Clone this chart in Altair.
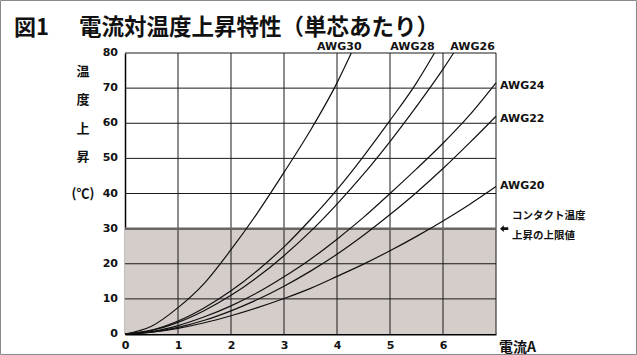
import altair as alt
import pandas as pd

# ---- data ----
awg30_i = [0, 0.5, 1, 1.5, 2, 2.5, 3, 3.5, 4, 4.27]
awg30_t = [0, 2.2, 7.5, 14.5, 24, 34.5, 46, 58, 71.5, 80]
awg28_i = [0, 0.5, 1, 1.5, 2, 2.5, 3, 3.5, 4, 4.5, 5, 5.5, 5.84]
awg28_t = [0, 1.1, 3.7, 7.5, 12.3, 18.1, 24.8, 32.6, 41.1, 50.6, 60.8, 71.5, 80]
awg26_i = [0, 0.5, 1, 1.5, 2, 2.5, 3, 3.5, 4, 4.5, 5, 5.5, 6, 6.2]
awg26_t = [0, 1.0, 3.3, 6.7, 11.0, 16.2, 22.3, 29.2, 37.0, 45.5, 54.8, 64.8, 75.4, 80]
awg24_i = [0, 0.5, 1, 1.5, 2, 2.5, 3, 3.5, 4, 4.5, 5, 5.5, 6, 6.5, 7]
awg24_t = [0, 0.7, 2.4, 4.9, 8.0, 11.8, 16.3, 21.3, 27.0, 33.2, 40.0, 47.0, 54.3, 62.3, 71.5]
awg22_i = [0, 0.5, 1, 1.5, 2, 2.5, 3, 3.5, 4, 4.5, 5, 5.5, 6, 6.5, 7]
awg22_t = [0, 0.55, 1.9, 3.9, 6.6, 9.8, 13.6, 17.9, 22.7, 28.1, 34.0, 40.3, 47.1, 54.4, 62]
awg20_i = [0, 0.5, 1, 1.5, 2, 2.5, 3, 3.5, 4, 4.5, 5, 5.5, 6, 6.5, 7]
awg20_t = [0, 0.5, 1.6, 3.2, 5.2, 7.5, 10.1, 13.0, 16.4, 19.9, 23.7, 27.8, 32.2, 36.9, 42]

series_names = ["AWG30", "AWG28", "AWG26", "AWG24", "AWG22", "AWG20"]
series_i = [awg30_i, awg28_i, awg26_i, awg24_i, awg22_i, awg20_i]
series_t = [awg30_t, awg28_t, awg26_t, awg24_t, awg22_t, awg20_t]

x_ticks = [0, 1, 2, 3, 4, 5, 6]
y_ticks = [0, 10, 20, 30, 40, 50, 60, 70, 80]
x_grid = [1, 2, 3, 4, 5, 6, 7]
y_grid = [10, 20, 30, 40, 50, 60, 70, 80]
limit_temp = 30

title_fig = "図1"
title_main = "電流対温度上昇特性（単芯あたり）"
y_title_chars = ["温", "度", "上", "昇"]
y_unit = "(℃)"
x_title = "電流A"
note_1 = "コンタクト温度"
note_2 = "上昇の上限値"

JP = "Noto Sans CJK JP"
NUM = "DejaVu Sans"

# ---- tables ----
rows = []
for name, xs_, ts in zip(series_names, series_i, series_t):
    for k, (a, b) in enumerate(zip(xs_, ts)):
        rows.append({"series": name, "current": a, "temp": b, "order": k})
curves = pd.DataFrame(rows)

ends = pd.DataFrame({
    "series": series_names,
    "current": [v[-1] for v in series_i],
    "temp": [v[-1] for v in series_t],
})

xs = alt.Scale(domain=[0, 7], nice=False, zero=True)
ys = alt.Scale(domain=[0, 80], nice=False)

base = alt.Chart(curves)

axis_common = dict(
    grid=False, ticks=False, domain=True, domainColor="#000",
    labelFont=NUM, labelFontSize=11, labelFontWeight="bold", labelColor="#111",
    labelOverlap=False, labelFlush=False, format="d", title=None,
)

shade = alt.Chart(pd.DataFrame({"x0": [0], "x1": [7], "y0": [0], "y1": [limit_temp]})).mark_rect(
    color="#d5cdca"
).encode(
    x=alt.X("x0:Q", scale=xs, axis=alt.Axis(values=x_ticks, domainWidth=2, labelPadding=5, **axis_common)),
    x2="x1:Q",
    y=alt.Y("y0:Q", scale=ys, axis=alt.Axis(values=y_ticks, domainWidth=1.5, labels=False, **axis_common)),
    y2="y1:Q",
)

vgrid = alt.Chart(pd.DataFrame({"g": x_grid})).mark_rule(color="#1a1a1a", strokeWidth=1).encode(
    x=alt.X("g:Q", scale=xs), y=alt.datum(0, scale=ys), y2=alt.datum(80)
)
hgrid = alt.Chart(pd.DataFrame({"g": y_grid})).mark_rule(color="#1a1a1a", strokeWidth=1).encode(
    y=alt.Y("g:Q", scale=ys), x=alt.datum(0, scale=xs), x2=alt.datum(7)
)
limit = alt.Chart(pd.DataFrame({"g": [limit_temp]})).mark_rule(color="#6a6462", strokeWidth=2.5).encode(
    y=alt.Y("g:Q", scale=ys), x=alt.datum(0, scale=xs), x2=alt.datum(7)
)

lines = base.mark_line(color="#111", strokeWidth=1.2, interpolate="monotone").encode(
    x=alt.X("current:Q", scale=xs),
    y=alt.Y("temp:Q", scale=ys),
    detail="series:N",
    order="order:Q",
)


def end_label(name, align, baseline, dx, dy):
    return alt.Chart(ends[ends.series == name]).mark_text(
        font=NUM, fontSize=11, fontWeight="bold", color="#111",
        align=align, baseline=baseline, dx=dx, dy=dy
    ).encode(x=alt.X("current:Q", scale=xs), y=alt.Y("temp:Q", scale=ys), text="series:N")


labels = [
    end_label("AWG30", "center", "alphabetic", -12, -3.5),
    end_label("AWG28", "center", "alphabetic", -22, -3.5),
    end_label("AWG26", "center", "alphabetic", 19, -3.5),
    end_label("AWG24", "left", "middle", 4, 3),
    end_label("AWG22", "left", "middle", 4, 3),
    end_label("AWG20", "left", "middle", 4, 0),
]

one = pd.DataFrame({"a": [0]})


def anno(text, x, y, dx, dy, size, align="left", font=JP, weight="bold", baseline="middle"):
    return alt.Chart(one).mark_text(
        text=text, font=font, fontSize=size, fontWeight=weight, color="#111",
        align=align, baseline=baseline, dx=dx, dy=dy
    ).encode(x=alt.datum(x), y=alt.datum(y))


notes = [
    anno(note_1, 7, limit_temp, 16, -13, 10.5),
    anno(note_2, 7, limit_temp, 16, 7, 10.5),
    anno(x_title, 7, 0, 3, 14, 14),
]

# y tick labels, one text per tick value, placed through the y scale
y_labels = [anno(str(v), 0, v, -7, 0, 11, align="right", font=NUM) for v in y_ticks]

arrow_path = "M1.33,0 L2.6,-1.15 L2.6,-0.45 L4.1,-0.45 L4.1,0.45 L2.6,0.45 L2.6,1.15 Z"
arrow = alt.Chart(one).mark_point(
    shape=arrow_path, size=36, filled=True, color="#111", opacity=1, strokeWidth=0
).encode(x=alt.datum(7), y=alt.datum(limit_temp))

ytitle = alt.Chart(one).mark_text(
    text=y_title_chars, font=JP, fontSize=13, fontWeight="bold", color="#111",
    align="center", baseline="top", lineHeight=28.4
).encode(x=alt.value(-42), y=alt.value(13))

yunit = alt.Chart(one).mark_text(
    text=y_unit, font=JP, fontSize=13, fontWeight="bold", color="#111",
    align="center", baseline="middle"
).encode(x=alt.value(-42), y=alt.datum(40))

t1 = alt.Chart(one).mark_text(
    text=title_fig, font=JP, fontSize=22, fontWeight="bold", color="#111",
    align="left", baseline="middle"
).encode(x=alt.value(-111), y=alt.value(-25))
t2 = alt.Chart(one).mark_text(
    text=title_main, font=JP, fontSize=22.5, fontWeight="bold", color="#111",
    align="left", baseline="middle"
).encode(x=alt.value(-46), y=alt.value(-25))

frame = alt.Chart(one).mark_rect(fill=None, stroke="#8a8a8a", strokeWidth=1).encode(
    x=alt.value(-124.5), x2=alt.value(511.5), y=alt.value(-52.5), y2=alt.value(301.5)
)

chart = alt.layer(
    shade, vgrid, hgrid, limit, lines, *labels, *notes, *y_labels, arrow, ytitle, yunit, t1, t2, frame
).properties(
    width=371, height=281,
    autosize=alt.AutoSizeParams(type="none"),
    padding={"left": 125, "top": 53, "right": 141, "bottom": 21},
    background="white",
).configure_view(stroke=None)

chart.save("out.html", embed_options={"renderer": "svg", "actions": False})
